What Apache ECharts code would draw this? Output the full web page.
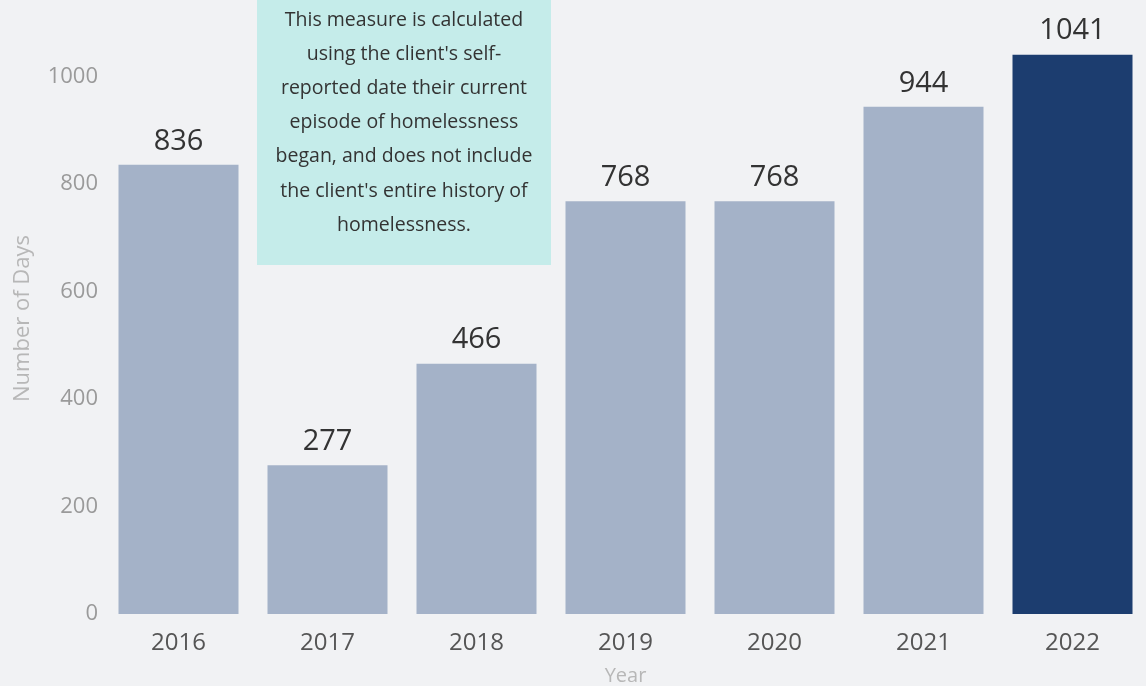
<!DOCTYPE html>
<html>
<head>
<meta charset="utf-8">
<script src="https://cdn.jsdelivr.net/npm/echarts@6/dist/echarts.min.js"></script>
<style>
  html, body { margin: 0; padding: 0; background: #f1f2f4; }
  #chart { width: 1146px; height: 686px; }
</style>
</head>
<body>
<div id="chart"></div>
<script>
// Median days homeless by year
const years = ['2016', '2017', '2018', '2019', '2020', '2021', '2022'];
const days = [836, 277, 466, 768, 768, 944, 1041];
const highlightYear = '2022';
const noteLines = [
  'This measure is calculated',
  "using the client's self-",
  'reported date their current',
  'episode of homelessness',
  'began, and does not include',
  "the client's entire history of",
  'homelessness.'
];

const FONT = '"Open Sans", "Noto Sans", sans-serif';
const chart = echarts.init(document.getElementById('chart'));

chart.setOption({
  backgroundColor: '#f1f2f4',
  animation: false,
  grid: { left: 104, top: 23, width: 1043, bottom: 72, outerBoundsMode: 'none', containLabel: false },
  xAxis: {
    type: 'category',
    data: years,
    name: 'Year',
    nameLocation: 'middle',
    nameGap: 52,
    nameTextStyle: { color: '#b7b7b7', fontSize: 20, fontFamily: FONT },
    axisLine: { show: false },
    axisTick: { show: false },
    axisLabel: { color: '#555', fontSize: 24, fontFamily: FONT, margin: 17 }
  },
  yAxis: {
    type: 'value',
    min: 0,
    max: 1100,
    interval: 200,
    name: 'Number of Days',
    nameLocation: 'middle',
    nameGap: 70,
    nameTextStyle: { color: '#b7b7b7', fontSize: 22, fontFamily: FONT },
    splitLine: { show: false },
    axisLine: { show: false },
    axisTick: { show: false },
    axisLabel: {
      color: '#9a9a9a', fontSize: 22, fontFamily: FONT, margin: 6,
      showMaxLabel: false,
      formatter: v => String(v)
    }
  },
  series: [{
    type: 'bar',
    barWidth: 120,
    data: days.map((v, i) => ({
      value: v,
      itemStyle: { color: years[i] === highlightYear ? '#1c3d6f' : '#a4b2c8' }
    })),
    label: {
      show: true,
      position: 'top',
      distance: 9,
      color: '#333',
      fontSize: 29,
      fontFamily: FONT
    }
  }],
  graphic: [{
    type: 'group',
    left: 257,
    top: 0,
    children: [{
      type: 'rect',
      shape: { x: 0, y: 0, width: 294, height: 265 },
      style: { fill: '#c5ecea' }
    }, {
      type: 'text',
      x: 147,
      y: 3,
      style: {
        text: noteLines.join('\n'),
        fill: '#333',
        font: '19.5px ' + FONT,
        lineHeight: 34.2,
        align: 'center',
        verticalAlign: 'top'
      }
    }]
  }]
});
</script>
</body>
</html>
